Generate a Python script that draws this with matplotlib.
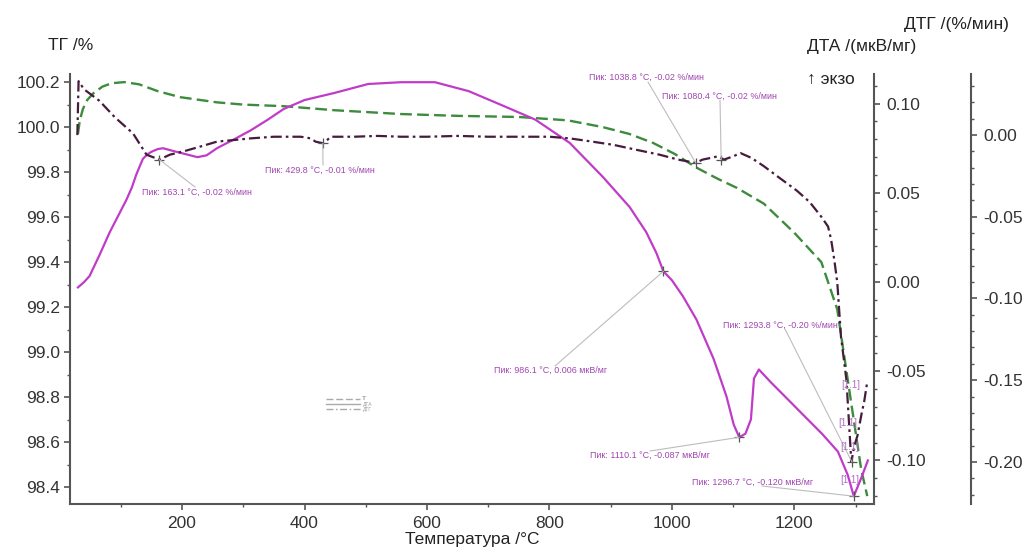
import matplotlib
matplotlib.use("Agg")
import matplotlib.pyplot as plt
from matplotlib.lines import Line2D
from matplotlib.ticker import MultipleLocator

plt.rcParams["font.family"] = ["Liberation Sans", "DejaVu Sans"]

# --- TG (%), left axis ---
tg_T = [30, 33, 38, 45, 55, 70, 85, 106, 130, 160, 197, 257, 300, 366, 449,
        558, 650, 750, 830, 887, 930, 969, 1005, 1040, 1075, 1106, 1150, 1200,
        1244, 1270, 1293, 1309, 1319]
tg_val = [99.97, 100.03, 100.08, 100.12, 100.15, 100.18, 100.195, 100.2, 100.19,
          100.16, 100.133, 100.11, 100.10, 100.093, 100.075, 100.058, 100.05,
          100.045, 100.03, 100.0, 99.97, 99.93, 99.88, 99.82, 99.77, 99.73, 99.66,
          99.53, 99.40, 99.19, 98.77, 98.48, 98.36]

# --- DTA (uV/mg), first right axis ---
dta_T = [30, 40, 49, 65, 82, 100, 109, 118, 125, 131, 136, 143, 150, 160, 169,
         185, 208, 225, 240, 257, 285, 312, 340, 366, 400, 449, 504, 558, 613,
         668, 723, 777, 833, 887, 931, 958, 975, 986, 1000, 1018, 1040, 1068,
         1089, 1101, 1110, 1120, 1129, 1134, 1142, 1161, 1190, 1216, 1245, 1271,
         1287, 1297, 1309, 1320]
dta_val = [-0.003, 0.000, 0.0034, 0.015, 0.028, 0.040, 0.046, 0.053, 0.060,
           0.065, 0.069, 0.0715, 0.073, 0.0745, 0.075, 0.0735, 0.0715, 0.070,
           0.071, 0.075, 0.080, 0.085, 0.091, 0.097, 0.102, 0.106, 0.111, 0.112,
           0.112, 0.107, 0.099, 0.091, 0.078, 0.059, 0.042, 0.028, 0.016, 0.006,
           0.001, -0.008, -0.021, -0.043, -0.064, -0.080, -0.087, -0.085, -0.077,
           -0.054, -0.049, -0.056, -0.066, -0.075, -0.085, -0.095, -0.108,
           -0.120, -0.110, -0.100]

# --- DTG (%/min), second right axis ---
dtg_T = [29, 31, 40, 65, 90, 120, 142, 163, 180, 202, 230, 257, 285, 312, 350,
         394, 410, 418, 430, 437, 443, 480, 520, 558, 600, 650, 700, 750, 800,
         833, 870, 905, 942, 980, 1010, 1039, 1050, 1063, 1075, 1085, 1100, 1112,
         1130, 1150, 1175, 1204, 1225, 1244, 1255, 1260, 1265, 1270, 1276, 1285,
         1293, 1298, 1303, 1310, 1314, 1319]
dtg_val = [0.000, 0.033, 0.028, 0.021, 0.011, 0.001, -0.012, -0.015, -0.012,
           -0.010, -0.007, -0.004, -0.003, -0.002, -0.001, -0.001, -0.002,
           -0.004, -0.005, -0.003, -0.001, -0.001, -0.0005, -0.001, -0.001,
           -0.0005, -0.001, -0.001, -0.001, -0.002, -0.004, -0.006, -0.009,
           -0.012, -0.015, -0.017, -0.015, -0.014, -0.013, -0.015, -0.013,
           -0.011, -0.014, -0.019, -0.026, -0.034, -0.041, -0.050, -0.056,
           -0.064, -0.076, -0.090, -0.123, -0.150, -0.200, -0.190, -0.184,
           -0.170, -0.163, -0.151]

# --- peak annotations ---
dtg_peak_T = [163.1, 429.8, 1038.8, 1080.4, 1293.8]
dtg_peak_val = [-0.015, -0.005, -0.017, -0.015, -0.200]
dtg_peak_labels = ["Пик: 163.1 °C, -0.02 %/мин", "Пик: 429.8 °C, -0.01 %/мин",
                   "Пик: 1038.8 °C, -0.02 %/мин", "Пик: 1080.4 °C, -0.02 %/мин",
                   "Пик: 1293.8 °C, -0.20 %/мин"]
dta_peak_T = [986.1, 1110.1, 1296.7]
dta_peak_val = [0.006, -0.087, -0.120]
dta_peak_labels = ["Пик: 986.1 °C, 0.006 мкВ/мг", "Пик: 1110.1 °C, -0.087 мкВ/мг",
                   "Пик: 1296.7 °C, -0.120 мкВ/мг"]

W, H = 1030, 548


def fpos(x, y):
    # image pixel (top-left origin) -> figure fraction
    return (x / W, 1 - y / H)


fig = plt.figure(figsize=(W / 100, H / 100), dpi=100)
L, R, T, B = 70, 874, 74, 504
ax = fig.add_axes([L / W, 1 - B / H, (R - L) / W, (B - T) / H])
ax2 = ax.twinx()
ax3 = ax.twinx()
ax3.spines["right"].set_position(("axes", (971 - L) / (R - L)))

spine_c = "#555555"
for a in (ax, ax2, ax3):
    for s in a.spines.values():
        s.set_visible(False)
        s.set_color(spine_c)
        s.set_linewidth(1.5)
ax.spines["left"].set_visible(True)
ax.spines["bottom"].set_visible(True)
ax2.spines["right"].set_visible(True)
ax3.spines["right"].set_visible(True)

c_tg, c_dta, c_dtg = "#3d8b3d", "#c03cc8", "#461b3e"
ax.plot(tg_T, tg_val, color=c_tg, lw=1.7, dashes=(5, 2.2))
ax2.plot(dta_T, dta_val, color=c_dta, lw=1.6)
ax3.plot(dtg_T, dtg_val, color=c_dtg, lw=1.6, dashes=(5, 1.8, 1.2, 1.8))

ax.set_xlim(17, 1330)
ax.set_ylim(98.325, 100.236)
ax2.set_ylim(-0.1244, 0.1166)
ax3.set_ylim(-0.2258, 0.0374)

ax.xaxis.set_major_locator(MultipleLocator(200))
ax.xaxis.set_minor_locator(MultipleLocator(100))
ax.yaxis.set_major_locator(MultipleLocator(0.2))
ax.yaxis.set_minor_locator(MultipleLocator(0.1))
ax.yaxis.set_major_formatter(lambda v, p: f"{v:.1f}")
for a in (ax2, ax3):
    a.yaxis.set_major_locator(MultipleLocator(0.05))
    a.yaxis.set_minor_locator(MultipleLocator(0.01))
    a.yaxis.set_major_formatter(lambda v, p: f"{v:.2f}".replace("-0.00", "0.00"))

for a in (ax, ax2, ax3):
    a.tick_params(which="major", direction="out", length=4, width=1.2,
                  color=spine_c, labelsize=12.5, labelcolor="#333333")
    a.tick_params(which="minor", direction="out", length=2.5, width=1.0,
                  color=spine_c)
ax.tick_params(axis="y", pad=3)
ax.tick_params(axis="x", pad=5)
ax2.tick_params(axis="y", pad=5)
ax3.tick_params(axis="y", pad=5)

ax.set_xlabel("Температура /°C", fontsize=12.5, color="#222222", labelpad=0.5)

fig.text(*fpos(48, 45), "ТГ /%", fontsize=12.5, color="#222222", va="center")
fig.text(*fpos(807, 47), "ДТА /(мкВ/мг)", fontsize=12.5, color="#222222", va="center")
fig.text(*fpos(904, 25), "ДТГ /(%/мин)", fontsize=12.5, color="#222222", va="center")
fig.text(*fpos(807, 79), "↑ экзо", fontsize=12.5, color="#222222", va="center")

# peak markers, labels and leader lines
ann_c, lead_c = "#a044b0", "#bdbdbd"
dtg_text_xy = [(197, 192), (320, 170), (646, 77), (719, 96), (780, 325)]
dtg_line_from = [(195, 187), (323, 165), (648, 82), (720, 100), (785, 329)]
dta_text_xy = [(551, 370), (650, 455), (753, 482)]
dta_line_from = [(555, 366), (650, 451), (762, 486)]


def mark_peaks(axis, ts, vs, labels, text_xy, line_from):
    for t, v, lab, txy, lf in zip(ts, vs, labels, text_xy, line_from):
        axis.annotate("", xy=(t, v), xycoords="data", xytext=fpos(*lf),
                      textcoords="figure fraction",
                      arrowprops=dict(arrowstyle="-", color=lead_c, lw=0.8,
                                      shrinkA=0, shrinkB=0))
        axis.plot([t], [v], marker="+", color="#555555", ms=7, mew=0.9)
        fig.text(*fpos(*txy), lab, fontsize=6.4, color=ann_c,
                 ha="center", va="center")


mark_peaks(ax3, dtg_peak_T, dtg_peak_val, dtg_peak_labels, dtg_text_xy, dtg_line_from)
mark_peaks(ax2, dta_peak_T, dta_peak_val, dta_peak_labels, dta_text_xy, dta_line_from)

for bx, by in [(851, 385), (848, 423), (850, 447), (850, 480)]:
    fig.text(*fpos(bx, by), "[1.1]", fontsize=7, color="#b070c0",
             ha="center", va="center")

# tiny legend
handles = [Line2D([], [], color="#aaaaaa", lw=1, dashes=(5, 2)),
           Line2D([], [], color="#aaaaaa", lw=1),
           Line2D([], [], color="#aaaaaa", lw=1, dashes=(5, 1.8, 1.2, 1.8))]
fig.legend(handles, ["ТГ", "ДТА", "ДТГ"], loc="upper left",
           bbox_to_anchor=fpos(324, 394), bbox_transform=fig.transFigure,
           frameon=False, fontsize=3.5, handlelength=7, labelspacing=0.05,
           borderpad=0, handletextpad=0.4, labelcolor="#999999")

fig.savefig("out.png", dpi=100, facecolor="white")
